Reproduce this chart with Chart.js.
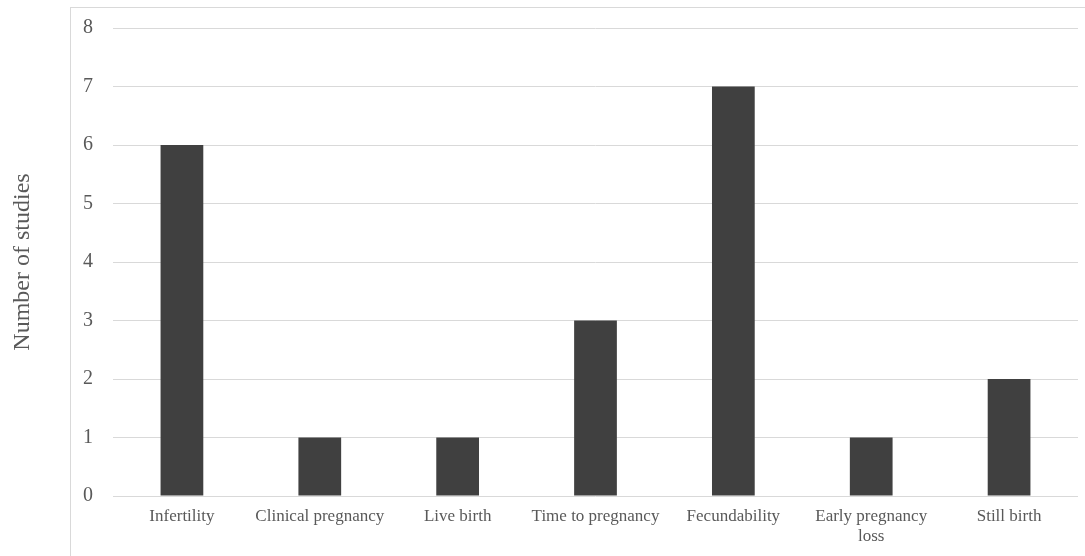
<!DOCTYPE html>
<html>
<head>
<meta charset="utf-8">
<script src="https://cdn.jsdelivr.net/npm/chart.js@4"></script>
<style>
  html, body { margin: 0; padding: 0; background: #fff; }
  #wrap { width: 1085px; height: 556px; position: relative; }
</style>
</head>
<body>
<div id="wrap"><canvas id="chart" width="1085" height="556"></canvas></div>
<script>
const categories = ['Infertility', 'Clinical pregnancy', 'Live birth', 'Time to pregnancy', 'Fecundability', ['Early pregnancy', 'loss'], 'Still birth'];
const studyCounts = [6, 1, 1, 3, 7, 1, 2];
const yTicks = [0, 1, 2, 3, 4, 5, 6, 7, 8];

const FONT = "'Liberation Serif', 'Times New Roman', serif";
const TEXT_COLOR = '#595959';
const GRID_COLOR = '#d9d9d9';

// light frame like the office chart box, only left and top edges fall inside the picture
const framePlugin = {
    id: 'frame',
    beforeDraw: (chart) => {
        const ctx = chart.ctx;
        ctx.save();
        ctx.strokeStyle = GRID_COLOR;
        ctx.lineWidth = 1;
        ctx.strokeRect(70.5, 7.5, 1200, 800);
        ctx.restore();
    }
};

new Chart(document.getElementById('chart'), {
    type: 'bar',
    data: {
        labels: categories,
        datasets: [{
            label: 'Number of studies',
            data: studyCounts,
            backgroundColor: '#404040',
            borderWidth: 0,
            categoryPercentage: 1,
            barPercentage: 0.31
        }]
    },
    options: {
        responsive: false,
        animation: false,
        layout: { padding: { top: 0, right: 7, left: 0, bottom: 0 } },
        plugins: {
            legend: { display: false },
            tooltip: { enabled: false }
        },
        scales: {
            x: {
                grid: { display: false, drawTicks: false },
                border: { display: false },
                ticks: {
                    color: TEXT_COLOR,
                    font: { family: FONT, size: 17 },
                    padding: 10,
                    maxRotation: 0,
                    autoSkip: false
                },
                afterFit: (scale) => { scale.height = 60; }
            },
            y: {
                min: 0,
                max: 8,
                afterBuildTicks: (scale) => {
                    scale.ticks = yTicks.map((v) => ({ value: v }));
                },
                grid: { color: GRID_COLOR, drawTicks: false },
                border: { display: false },
                ticks: {
                    color: TEXT_COLOR,
                    font: { family: FONT, size: 20 },
                    padding: 20
                },
                title: {
                    display: true,
                    text: 'Number of studies',
                    color: TEXT_COLOR,
                    font: { family: FONT, size: 24 },
                    padding: { top: 8, bottom: 0 }
                },
                afterFit: (scale) => {
                    scale.width = 113;
                    scale.paddingTop = 28;
                }
            }
        }
    },
    plugins: [framePlugin]
});
</script>
</body>
</html>
